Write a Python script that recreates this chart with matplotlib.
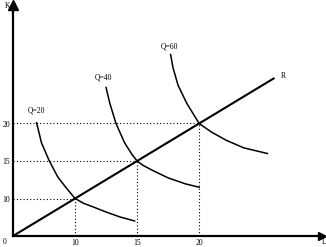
import matplotlib
matplotlib.use('Agg')
import matplotlib.pyplot as plt

plt.rcParams['font.family'] = ['Liberation Serif', 'DejaVu Serif']

# ray from origin (capital/labour ratio)
ray_L = [5, 26]
ray_K = [5, 26]

# isoquants, points (L, K)
q20_L = [6.9, 7.3, 7.9, 8.6, 9.2, 10.0, 10.7, 11.5, 12.5, 13.6, 14.8]
q20_K = [20.1, 17.4, 15.1, 12.9, 11.6, 10.0, 9.35, 8.85, 8.2, 7.55, 7.0]
q40_L = [12.5, 12.8, 13.3, 14.0, 14.6, 15.0, 15.5, 16.3, 17.5, 18.9, 20.0]
q40_K = [24.8, 22.7, 20.0, 17.4, 15.85, 15.0, 14.4, 13.7, 12.75, 11.95, 11.5]
q60_L = [17.7, 17.9, 18.3, 19.0, 20.0, 21.0, 22.2, 23.6, 25.5]
q60_K = [29.2, 27.4, 25.1, 22.7, 20.0, 18.85, 17.75, 16.75, 16.0]

curves = [(q20_L, q20_K), (q40_L, q40_K), (q60_L, q60_K)]
q_labels = ['Q=20', 'Q=40', 'Q=60']
label_pos = [(6.85, 21.7), (12.3, 26.1), (17.6, 30.2)]

# optimum points on the ray
opt = [10, 15, 20]
tick_labels = ['10', '15', '20']

fig = plt.figure(figsize=(3.26, 2.47), dpi=100)
ax = fig.add_axes([13/326, 11/247, 309/326, 231/247])
ax.set_xlim(5, 29.9)
ax.set_ylim(5, 35.8)

for s in ['top', 'right']:
    ax.spines[s].set_visible(False)
for s in ['left', 'bottom']:
    ax.spines[s].set_linewidth(1.6)

ax.plot(1, 0, '>', color='black', ms=6, transform=ax.transAxes, clip_on=False)
ax.plot(0, 1, '^', color='black', ms=7, transform=ax.transAxes, clip_on=False)

for v in opt:
    ax.plot([5, v], [v, v], color='black', lw=0.8, ls=(0, (1, 2)))
    ax.plot([v, v], [5, v], color='black', lw=0.8, ls=(0, (1, 2)))

ax.plot(ray_L, ray_K, color='black', lw=1.5)
for (xs, ys) in curves:
    ax.plot(xs, ys, color='black', lw=1.1, solid_joinstyle='round')

for lab, (x, y) in zip(q_labels, label_pos):
    ax.text(x, y, lab, fontsize=5.5, ha='center', va='center')
ax.text(26.8, 26.3, 'R', fontsize=5.5, ha='center', va='center')

ax.set_xticks(opt)
ax.set_xticklabels(tick_labels)
ax.set_yticks(opt)
ax.set_yticklabels(tick_labels)
ax.tick_params(length=0, labelsize=5.5, pad=2)

ax.text(-0.02, -0.01, '0', fontsize=5.5, ha='right', va='top', transform=ax.transAxes)
ax.text(-0.01, 0.995, 'K', fontsize=5.5, ha='right', va='center', transform=ax.transAxes)
ax.text(1.0, -0.025, 'L', fontsize=5.5, ha='left', va='center', transform=ax.transAxes)

plt.savefig('out.png', dpi=100)
